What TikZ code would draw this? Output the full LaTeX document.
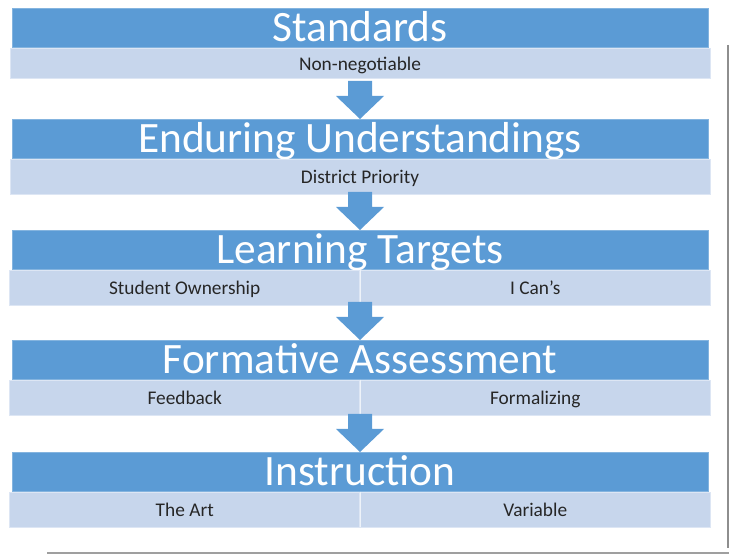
\documentclass[tikz,border=0pt]{standalone}
\usepackage{fontspec}
\setmainfont{Carlito}
\usetikzlibrary{positioning,calc}

\definecolor{headblue}{HTML}{5B9BD5}
\definecolor{bandblue}{HTML}{C7D6EC}
\definecolor{framegray}{HTML}{8E8E8E}
\definecolor{bandtext}{HTML}{262626}

\tikzset{
  head/.style={rectangle, fill=headblue, draw=headblue!75!white, line width=0.4pt,
    text=white, minimum width=522pt, minimum height=29.25pt, inner sep=0pt,
    text height=20.8pt, text depth=0pt,
    font=\fontsize{32.5}{36}\selectfont},
  band/.style={rectangle, fill=bandblue, draw=bandblue!60!white, line width=0.4pt,
    text=bandtext, minimum width=525pt, minimum height=26.25pt, inner sep=0pt,
    text height=11.4pt, text depth=0pt,
    font=\fontsize{14.5}{17}\selectfont},
  halfband/.style={band, minimum width=262.5pt},
  divider/.style={draw=white!70!bandblue, line width=0.6pt},
  stagearrow/.style={fill=headblue}
}

\begin{document}
\begin{tikzpicture}[x=0.75pt,y=-0.75pt]
	\useasboundingbox (0,0) rectangle (733,555);

	% stages
	\node[head, anchor=north] (standards) at (360,8) {Standards};
	\node[band, below=0pt of standards, minimum height=23pt] (nonneg) {Non-negotiable};

	\node[head, anchor=north] (enduring) at (360,119) {Enduring Understandings};
	\node[band, below=0pt of enduring] (district) {District Priority};

	\node[head, anchor=north] (targets) at (360,230) {Learning Targets};
	\node[halfband, below left=0pt and 0pt of targets.south] (ownership) {Student Ownership};
	\node[halfband, below right=0pt and 0pt of targets.south] (icans) {I Can’s};
	\draw[divider] (ownership.north east) -- (ownership.south east);

	\node[head, anchor=north] (formative) at (360,340) {Formative Assessment};
	\node[halfband, below left=0pt and 0pt of formative.south] (feedback) {Feedback};
	\node[halfband, below right=0pt and 0pt of formative.south] (formalizing) {Formalizing};
	\draw[divider] (feedback.north east) -- (feedback.south east);

	\node[head, anchor=north] (instruction) at (360,452) {Instruction};
	\node[halfband, below left=0pt and 0pt of instruction.south] (art) {The Art};
	\node[halfband, below right=0pt and 0pt of instruction.south] (variable) {Variable};
	\draw[divider] (art.north east) -- (art.south east);

	% block arrows between stages
	\foreach \next in {enduring,targets,formative,instruction}
		\fill[stagearrow] ($(\next.north)+(-12,-38)$) -- ++(24,0) -- ++(0,15) -- ++(12,0)
			-- (\next.north) -- ($(\next.north)+(-24,-23)$) -- ++(12,0) -- cycle;

	% frame
	\draw[framegray, line width=2pt] (728,45) -- (728,548);
	\draw[framegray!85, line width=1pt] (47,553) -- (729,553);
\end{tikzpicture}
\end{document}
